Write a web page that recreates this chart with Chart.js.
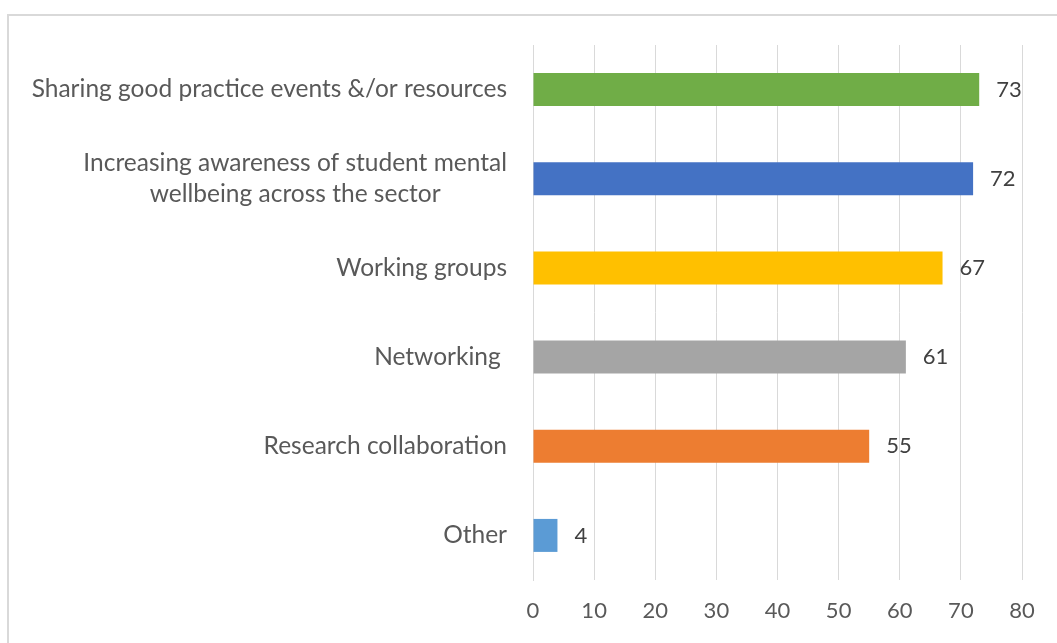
<!DOCTYPE html>
<html>
<head>
<meta charset="utf-8">
<script src="https://cdn.jsdelivr.net/npm/chart.js@4"></script>
<style>
  html, body { margin: 0; padding: 0; background: #fff; }
  #wrap { width: 1057px; height: 643px; }
</style>
</head>
<body>
<div id="wrap"><canvas id="grafico"></canvas></div>
<script>
// dados do gráfico
const categorias = [
  ["Sharing good practice events &/or resources"],
  ["Increasing awareness of student mental", "wellbeing across the sector"],
  ["Working groups"],
  ["Networking "],
  ["Research collaboration"],
  ["Other"]
];
const valores = [73, 72, 67, 61, 55, 4];
const cores = ["#70AD47", "#4472C4", "#FFC000", "#A5A5A5", "#ED7D31", "#5B9BD5"];
const ticksX = [0, 10, 20, 30, 40, 50, 60, 70, 80];

const FONTE = "Lato, 'Liberation Sans', sans-serif";
const COR_TEXTO = "#595959";

// moldura cinza em volta do gráfico
const moldura = {
  id: "moldura",
  beforeDraw(chart) {
    const c = chart.ctx;
    c.save();
    c.fillStyle = "#fff";
    c.fillRect(0, 0, chart.width, chart.height);
    c.strokeStyle = "#d9d9d9";
    c.lineWidth = 2;
    c.beginPath();
    c.moveTo(chart.width, 15);
    c.lineTo(8, 15);
    c.lineTo(8, chart.height);
    c.stroke();
    c.restore();
  }
};

// rótulos do eixo y (linhas centralizadas entre si, bloco alinhado à direita)
const rotulosY = {
  id: "rotulosY",
  afterDraw(chart) {
    const c = chart.ctx;
    const y = chart.scales.y;
    const right = chart.chartArea.left - 26;
    const lh = 31;
    c.save();
    c.font = "24.5px " + FONTE;
    c.fillStyle = COR_TEXTO;
    c.textBaseline = "middle";
    c.textAlign = "center";
    categorias.forEach((linhas, i) => {
      const yc = y.getPixelForValue(i);
      const w = Math.max(...linhas.map(t => c.measureText(t).width));
      const cx = right - w / 2;
      linhas.forEach((t, k) => {
        c.fillText(t, cx, yc + (k - (linhas.length - 1) / 2) * lh);
      });
    });
    c.restore();
  }
};

// valores no fim das barras
const rotulosValor = {
  id: "rotulosValor",
  afterDatasetsDraw(chart) {
    const c = chart.ctx;
    const meta = chart.getDatasetMeta(0);
    c.save();
    c.font = "22px " + FONTE;
    c.fillStyle = "#404040";
    c.textBaseline = "middle";
    c.textAlign = "left";
    meta.data.forEach((bar, i) => {
      c.fillText(String(valores[i]), bar.x + 17, bar.y);
    });
    c.restore();
  }
};

const ctx = document.getElementById("grafico").getContext("2d");
new Chart(ctx, {
  type: "bar",
  data: {
    labels: categorias,
    datasets: [{
      data: valores,
      backgroundColor: cores,
      borderWidth: 0,
      categoryPercentage: 1,
      barPercentage: 0.37
    }]
  },
  options: {
    indexAxis: "y",
    responsive: true,
    maintainAspectRatio: false,
    animation: false,
    layout: { padding: { left: 0, top: 45, right: 35, bottom: 0 } },
    plugins: {
      legend: { display: false },
      tooltip: { enabled: false }
    },
    scales: {
      x: {
        min: 0,
        max: 80,
        afterBuildTicks(scale) { scale.ticks = ticksX.map(v => ({ value: v })); },
        grid: { color: "#d9d9d9", lineWidth: 1, drawTicks: false },
        border: { display: false },
        ticks: {
          padding: 18,
          color: COR_TEXTO,
          font: { family: FONTE, size: 22 }
        },
        afterFit(scale) { scale.height = 63; }
      },
      y: {
        grid: { display: false },
        border: { display: true, color: "#d9d9d9" },
        ticks: { display: false },
        afterFit(scale) { scale.width = 533; }
      }
    }
  },
  plugins: [moldura, rotulosY, rotulosValor]
});
</script>
</body>
</html>
